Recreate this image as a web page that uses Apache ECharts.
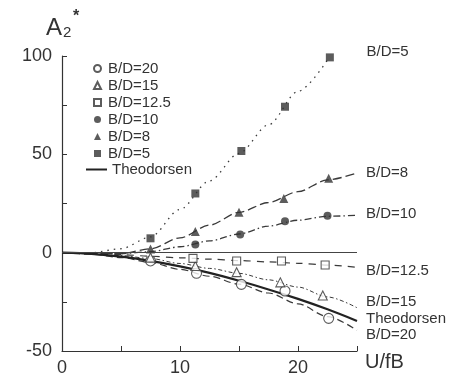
<!DOCTYPE html>
<html>
<head>
<meta charset="utf-8">
<script src="https://cdn.jsdelivr.net/npm/echarts@6/dist/echarts.min.js"></script>
<style>
  html, body { margin: 0; padding: 0; background: #fff; }
  #chart { width: 455px; height: 378px; }
</style>
</head>
<body>
<div id="chart"></div>
<script>
// measured points (U/fB, A2*)
var x20 = [7.5, 11.4, 15.2, 18.9, 22.6];
var y20 = [-4.2, -10.5, -16.1, -19.5, -33.4];
var x15 = [7.5, 11.3, 14.8, 18.5, 22.1];
var y15 = [-2.5, -6.8, -9.9, -15.1, -21.8];
var x125 = [11.1, 14.8, 18.6, 22.3];
var y125 = [-2.9, -4.2, -4.2, -6.3];
var x10 = [11.3, 15.1, 18.9, 22.5];
var y10 = [4.2, 9.3, 16.0, 18.8];
var x8 = [7.5, 11.3, 15.0, 18.8, 22.6];
var y8 = [1.9, 10.7, 20.5, 27.6, 37.8];
var x5 = [7.5, 11.3, 15.2, 18.9, 22.7];
var y5 = [7.3, 30.1, 51.7, 74.2, 99.3];

// fitted curves
var fitX = [0, 2.5, 5, 7.5, 10, 12.5, 15, 17.5, 20, 22.5, 25];
var fit20 = [0, -0.8, -2.5, -5, -8.5, -12, -16, -20.5, -26, -32.5, -39.5];
var fit15 = [0, -0.5, -1.5, -3, -5.5, -8, -10.5, -13.8, -17.5, -22.5, -28];
var fit125 = [0, -0.5, -1, -1.8, -2.6, -3.3, -4, -4.7, -5.4, -6.3, -7.5];
var fit10 = [0, -0.3, -0.5, 0.5, 3, 6, 9.5, 13.5, 16.5, 18.5, 19];
var fit8 = [0, -0.3, -0.5, 2, 7.5, 14, 20.5, 25.5, 31, 37, 40.5];
var fit5 = [0, 0, 2, 8, 22, 36.5, 50.5, 65, 82, 98, null];
var theodorsen = [0, -0.6, -2, -4.2, -7, -10.3, -14.3, -18.7, -23.5, -28.8, -34.7];

var legendNames = ['B/D=20', 'B/D=15', 'B/D=12.5', 'B/D=10', 'B/D=8', 'B/D=5'];

var ink = '#333';
var font = 'Liberation Sans, Arial, Helvetica, sans-serif';

function pairs(xs, ys) {
	var out = [];
	for (var i = 0; i < xs.length; i++) {
		if (ys[i] != null) out.push([xs[i], ys[i]]);
	}
	return out;
}

function points(name, xs, ys, symbol, size, open) {
	return {
		name: name,
		type: 'scatter',
		z: 4,
		symbol: symbol,
		symbolSize: size,
		itemStyle: open ? { color: '#fff', borderColor: ink, borderWidth: 1.1 } : { color: ink },
		data: pairs(xs, ys)
	};
}

function curve(name, ys, dash, width, dy, dx) {
	return {
		name: name,
		type: 'line',
		z: 2,
		showSymbol: false,
		smooth: 0.3,
		smoothMonotone: 'x',
		lineStyle: { color: '#3a3a3a', width: width, type: dash },
		itemStyle: { color: ink },
		endLabel: {
			show: true,
			formatter: '{a}',
			distance: 9,
			offset: [dx || 0, dy],
			color: ink,
			fontFamily: font,
			fontSize: 15
		},
		emphasis: { disabled: true },
		data: pairs(fitX, ys)
	};
}

var series = [
	points('B/D=20', x20, y20, 'circle', 10, true),
	points('B/D=15', x15, y15, 'triangle', 9, true),
	points('B/D=12.5', x125, y125, 'rect', 8, true),
	points('B/D=10', x10, y10, 'circle', 8, false),
	points('B/D=8', x8, y8, 'triangle', 9, false),
	points('B/D=5', x5, y5, 'rect', 8, false),
	curve('B/D=20', fit20, [7, 4], 1.2, 5),
	curve('B/D=15', fit15, [4, 2.5, 1.5, 2.5], 1, -5.5),
	curve('B/D=12.5', fit125, [7, 6], 1.2, 3),
	curve('B/D=10', fit10, [7, 3, 1.5, 3], 1.3, -1),
	curve('B/D=8', fit8, [9, 4], 1.3, 0),
	curve('B/D=5', fit5, [1.5, 5], 1.3, -8, 30),
	{
		name: 'Theodorsen',
		type: 'line',
		z: 3,
		showSymbol: false,
		smooth: 0.3,
		lineStyle: { color: '#222', width: 2.2 },
		itemStyle: { color: '#222' },
		endLabel: {
			show: true,
			formatter: '{a}',
			distance: 9,
			offset: [0, -2],
			color: ink,
			fontFamily: font,
			fontSize: 15
		},
		markLine: {
			silent: true,
			symbol: 'none',
			label: { show: false },
			lineStyle: { color: '#444', width: 1, type: 'solid' },
			data: [{ yAxis: 0 }]
		},
		emphasis: { disabled: true },
		data: pairs(fitX, theodorsen)
	}
];

var chart = echarts.init(document.getElementById('chart'));
chart.setOption({
	backgroundColor: '#fff',
	animation: false,
	grid: { left: 62, right: 98, top: 56, bottom: 27 },
	legend: [{
		data: legendNames,
		orient: 'vertical',
		left: 88,
		top: 55,
		itemWidth: 7,
		itemHeight: 7,
		itemGap: 0,
		selectedMode: false,
		textStyle: { color: ink, fontFamily: font, fontSize: 15, lineHeight: 17, padding: [0, 0, 0, 2] }
	}, {
		data: [{ name: 'Theodorsen', icon: 'rect' }],
		left: 81,
		top: 156,
		itemWidth: 21,
		itemHeight: 2,
		selectedMode: false,
		textStyle: { color: ink, fontFamily: font, fontSize: 15, lineHeight: 17 }
	}],
	xAxis: {
		type: 'value',
		min: 0,
		max: 25,
		interval: 5,
		name: 'U/fB',
		nameLocation: 'end',
		nameGap: 8,
		nameTextStyle: { color: ink, fontFamily: font, fontSize: 20, verticalAlign: 'top', padding: [1, 0, 0, 0] },
		axisLine: { onZero: false, lineStyle: { color: ink, width: 1.2 } },
		axisTick: { inside: true, length: 5, lineStyle: { color: ink } },
		axisLabel: {
			color: ink,
			fontFamily: font,
			fontSize: 18,
			margin: 8,
			formatter: function (v) { return v % 10 === 0 ? String(v) : ''; }
		},
		splitLine: { show: false }
	},
	yAxis: {
		type: 'value',
		min: -50,
		max: 100,
		interval: 25,
		axisLine: { onZero: false, lineStyle: { color: ink, width: 1.2 } },
		axisTick: { inside: true, length: 5, lineStyle: { color: ink } },
		axisLabel: {
			color: ink,
			fontFamily: font,
			fontSize: 18,
			margin: 10,
			formatter: function (v) { return v % 50 === 0 ? String(v) : ''; }
		},
		splitLine: { show: false }
	},
	graphic: [
		{ type: 'text', left: 46, top: 16, style: { text: 'A', fill: ink, font: '24px ' + font } },
		{ type: 'text', left: 63, top: 25, style: { text: '2', fill: ink, font: '15px ' + font } },
		{ type: 'text', left: 73, top: 9, style: { text: '*', fill: ink, font: 'bold 16px ' + font } }
	],
	series: series
});
</script>
</body>
</html>
